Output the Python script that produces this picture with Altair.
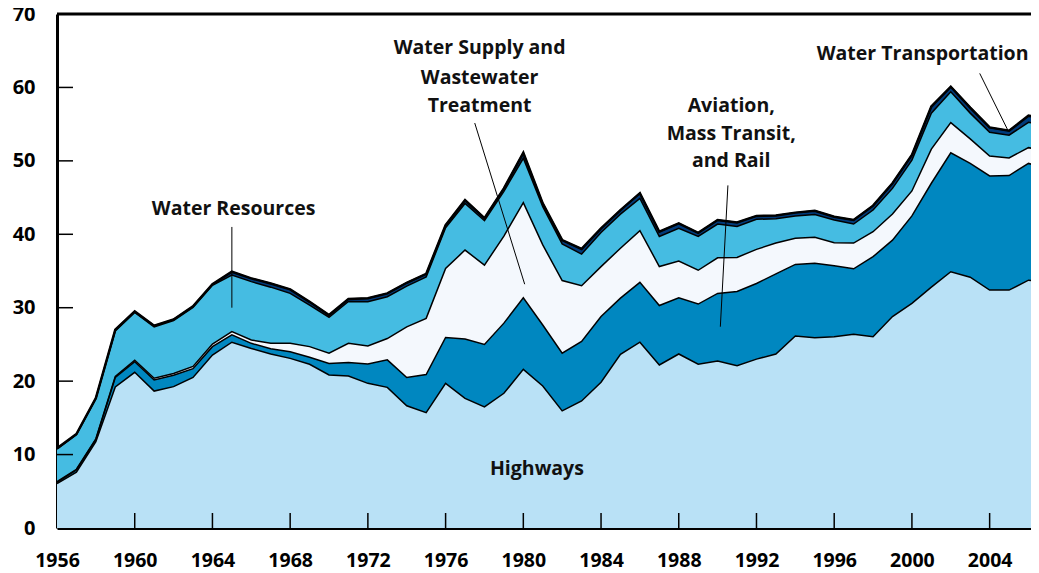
import altair as alt
import pandas as pd

years = list(range(1956, 2008))

highways = [6.05, 7.6, 11.75, 19.2, 21.2, 18.65, 19.25, 20.5, 23.55, 25.3,
            24.45, 23.7, 23.1, 22.3, 20.85, 20.7, 19.7, 19.15, 16.65, 15.7,
            19.7, 17.65, 16.5, 18.35, 21.6, 19.35, 15.95, 17.3, 19.85, 23.65,
            25.3, 22.2, 23.7, 22.3, 22.75, 22.1, 23.0, 23.7, 26.15, 25.9,
            26.05, 26.4, 26.05, 28.8, 30.6, 32.8, 34.9, 34.15, 32.4, 32.4,
            33.75, 33.3]
aviation = [0.15, 0.3, 0.3, 1.3, 1.45, 1.5, 1.55, 1.2, 1.15, 1.0,
            0.7, 0.7, 0.9, 0.95, 1.55, 1.85, 2.65, 3.75, 3.85, 5.2,
            6.25, 8.1, 8.5, 9.55, 9.75, 8.3, 7.85, 8.1, 8.95, 7.65,
            8.15, 8.1, 7.65, 8.2, 9.2, 10.1, 10.3, 10.9, 9.75, 10.15,
            9.65, 8.9, 10.9, 10.4, 11.9, 14.15, 16.2, 15.5, 15.55, 15.6,
            15.9, 15.6]
water_supply = [0.1, 0.1, 0.1, 0.15, 0.2, 0.25, 0.25, 0.3, 0.35, 0.45,
                0.45, 0.75, 1.15, 1.45, 1.4, 2.6, 2.45, 2.9, 6.9, 7.65,
                9.4, 12.1, 10.8, 11.85, 12.95, 10.9, 9.9, 7.6, 6.8, 6.8,
                7.05, 5.3, 5.0, 4.6, 4.85, 4.65, 4.65, 4.2, 3.55, 3.55,
                3.15, 3.5, 3.4, 3.55, 3.4, 4.65, 4.1, 3.35, 2.7, 2.4,
                2.15, 2.4]
water_resources = [4.45, 4.7, 5.45, 6.2, 6.5, 7.0, 7.2, 8.05, 8.0, 7.7,
                   7.95, 7.65, 6.8, 5.65, 4.9, 5.7, 6.0, 5.7, 5.55, 5.65,
                   5.55, 6.35, 6.05, 6.1, 6.05, 5.2, 5.0, 4.3, 4.65, 4.65,
                   4.4, 4.1, 4.45, 4.6, 4.6, 4.2, 4.1, 3.3, 3.05, 3.1,
                   3.1, 2.6, 2.95, 3.5, 4.2, 4.9, 4.2, 3.5, 3.25, 3.1,
                   3.45, 3.5]
water_transport = [0.1, 0.1, 0.1, 0.15, 0.15, 0.15, 0.15, 0.15, 0.15, 0.45,
                   0.45, 0.5, 0.55, 0.45, 0.3, 0.35, 0.5, 0.45, 0.45, 0.4,
                   0.35, 0.45, 0.35, 0.4, 0.75, 0.45, 0.5, 0.7, 0.55, 0.55,
                   0.7, 0.65, 0.7, 0.5, 0.55, 0.55, 0.45, 0.45, 0.45, 0.5,
                   0.45, 0.55, 0.6, 0.7, 0.7, 0.9, 0.7, 0.75, 0.65, 0.6,
                   0.9, 0.9]

categories = ["Highways", "Aviation, Mass Transit, and Rail",
              "Water Supply and Wastewater Treatment", "Water Resources",
              "Water Transportation"]
colors = ["#b9e1f6", "#0087c0", "#f4f8fd", "#45bce2", "#003b7b"]
series = [highways, aviation, water_supply, water_resources, water_transport]

x_label_years = list(range(1956, 2005, 4))
x_tick_years = list(range(1960, 2005, 4))
y_label_values = list(range(0, 71, 10))
y_tick_values = list(range(10, 61, 10))

# annotation texts (data coordinates)
ann_text = ["Water Resources", "Water Supply and", "Wastewater", "Treatment",
            "Aviation,", "Mass Transit,", "and Rail", "Water Transportation",
            "Highways"]
ann_x = [1965.09, 1977.75, 1977.75, 1977.75, 1990.7, 1990.7, 1990.7,
         2000.55, 1980.7]
ann_y = [42.58, 64.5, 60.45, 56.7, 56.7, 52.9, 49.1, 63.7, 7.2]

lead_x = [1965.0, 1977.5, 1990.53, 2003.49]
lead_x2 = [1965.0, 1980.07, 1990.14, 2004.94]
lead_y = [41.0, 55.15, 46.66, 61.91]
lead_y2 = [30.0, 33.2, 27.41, 54.16]

rows = []
for k, (cat, vals) in enumerate(zip(categories, series)):
    for yr, v in zip(years, vals):
        rows.append({"year": yr, "category": cat, "order": k, "value": v})
df = pd.DataFrame(rows)

W, H = 974, 514
FONT = "Open Sans"
xs = alt.Scale(domain=[1956, 1956 + W / 19.43], nice=False, zero=False)
ys = alt.Scale(domain=[0, 70], nice=False)

x_axis = alt.Axis(values=x_label_years, format="d", labelFont=FONT,
                  labelFontSize=19.5, labelFontWeight="bold",
                  labelColor="black", labelPadding=23,
                  labelFlush=False, labelOverlap=False,
                  labelBound=False, ticks=False, grid=False,
                  domainColor="black", domainWidth=3, title=None)
y_axis = alt.Axis(values=y_label_values, labelFont=FONT,
                  labelFontSize=20, labelFontWeight="bold",
                  labelColor="black", labelPadding=22,
                  labelOverlap=False, ticks=False, grid=False,
                  domainColor="black", domainWidth=3, title=None)


def X(field):
    return alt.X(field, scale=xs, axis=x_axis)


def Y(field):
    return alt.Y(field, scale=ys, axis=y_axis)


base = alt.Chart(df).transform_stack(
    stack="value", groupby=["year"], as_=["y0", "y1"],
    sort=[alt.SortField("order", order="ascending")]
)

areas = base.mark_area(clip=True).encode(
    x=X("year:Q"),
    y=Y("y1:Q"),
    y2="y0:Q",
    color=alt.Color("category:N", scale=alt.Scale(domain=categories, range=colors),
                    legend=None),
)

lines = base.mark_line(clip=True, color="black", strokeWidth=1.5).encode(
    x=X("year:Q"),
    y=Y("y1:Q"),
    detail="category:N",
)

top_line = base.transform_filter(
    alt.datum.category == "Water Transportation"
).mark_line(clip=True, color="black", strokeWidth=2.5).encode(
    x=X("year:Q"),
    y=Y("y1:Q"),
)

xticks = alt.Chart(pd.DataFrame({"year": x_tick_years})).mark_rule(
    color="black", strokeWidth=1.5).encode(
    x=X("year:Q"),
    y=alt.value(H - 15), y2=alt.value(H))

yticks = alt.Chart(pd.DataFrame({"v": y_tick_values})).mark_rule(
    color="black", strokeWidth=1.5).encode(
    y=Y("v:Q"),
    x=alt.value(0), x2=alt.value(16))

top_border = alt.Chart(pd.DataFrame({"v": [70]})).mark_rule(
    color="black", strokeWidth=3).encode(
    y=Y("v:Q"),
    x=alt.value(0), x2=alt.value(W))

leaders = alt.Chart(pd.DataFrame({"x": lead_x, "x2": lead_x2, "y": lead_y,
                                  "y2": lead_y2})).mark_rule(
    color="black", strokeWidth=1).encode(
    x=X("x:Q"), x2="x2:Q",
    y=Y("y:Q"), y2="y2:Q")

texts = alt.Chart(pd.DataFrame({"t": ann_text, "x": ann_x, "y": ann_y})).mark_text(
    font=FONT, fontSize=19.5, fontWeight="bold", color="#111111",
    align="center", baseline="alphabetic").encode(
    x=X("x:Q"),
    y=Y("y:Q"),
    text="t:N")

chart = alt.layer(areas, lines, top_line, xticks, yticks, top_border,
                  leaders, texts).properties(
    width=W, height=H,
    autosize=alt.AutoSizeParams(type="none"),
    padding={"left": 49, "top": 6, "right": 0, "bottom": 54},
    background="white",
).configure_view(stroke=None)

chart.save("out.html", embed_options={"renderer": "svg", "actions": False})
